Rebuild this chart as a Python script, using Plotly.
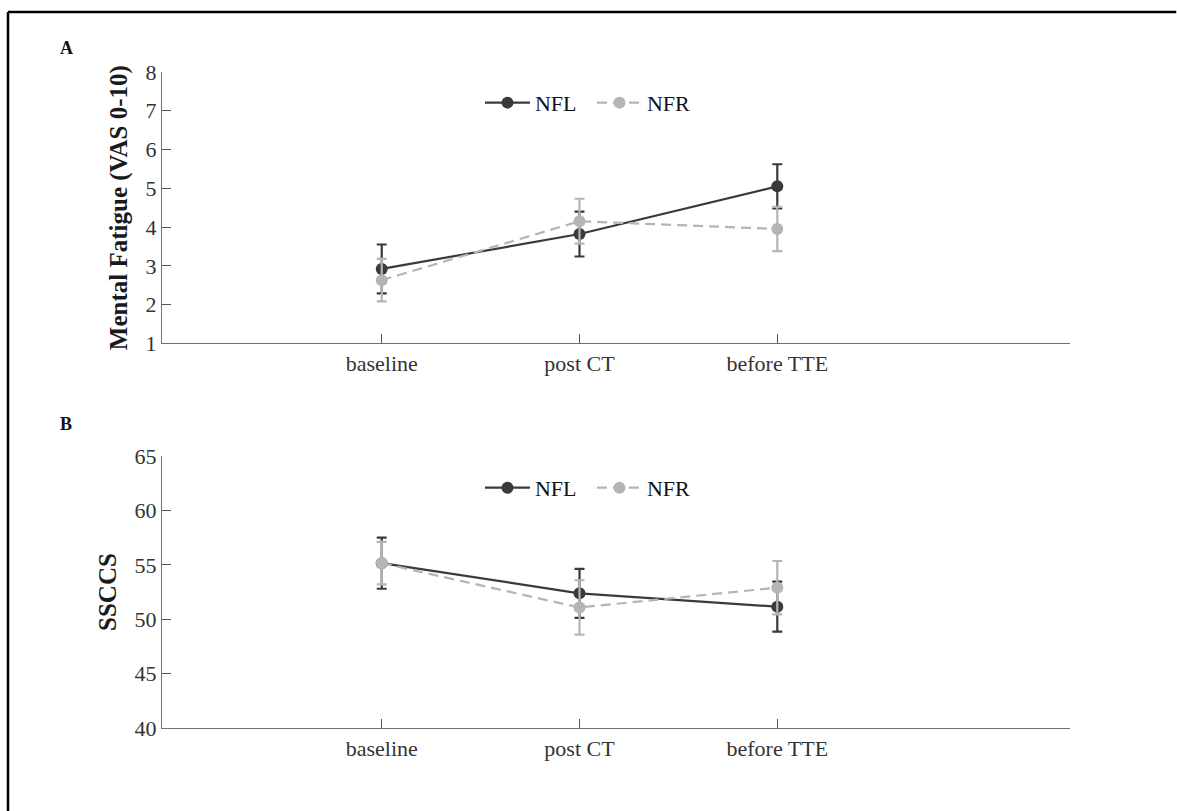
import plotly.graph_objects as go

categories = ["baseline", "post CT", "before TTE"]

# Panel A: Mental Fatigue (VAS 0-10)
nfl_fatigue = [2.92, 3.82, 5.05]
nfl_fatigue_err = [0.63, 0.58, 0.57]
nfr_fatigue = [2.63, 4.15, 3.95]
nfr_fatigue_err = [0.55, 0.58, 0.57]

# Panel B: SSCCS
nfl_ssccs = [55.15, 52.38, 51.15]
nfl_ssccs_err = [2.35, 2.25, 2.30]
nfr_ssccs = [55.15, 51.08, 52.90]
nfr_ssccs_err = [1.95, 2.50, 2.45]

fatigue_ticks = [1, 2, 3, 4, 5, 6, 7, 8]
ssccs_ticks = [40, 45, 50, 55, 60, 65]

DARK = "#3a3a3a"
LIGHT = "#b5b5b5"
FONT = "Liberation Serif, Times New Roman, serif"

fig = go.Figure()

def add_pair(x_ax, y_ax, legend, nfl, nfl_e, nfr, nfr_e):
    fig.add_trace(go.Scatter(
        x=categories, y=nfl, name="NFL", mode="lines+markers",
        line=dict(color=DARK, width=2.2),
        marker=dict(color=DARK, size=12, symbol="circle"),
        error_y=dict(type="data", array=nfl_e, color=DARK, thickness=2.2, width=5),
        xaxis=x_ax, yaxis=y_ax, legend=legend))
    fig.add_trace(go.Scatter(
        x=categories, y=nfr, name="NFR", mode="lines+markers",
        line=dict(color=LIGHT, width=2.2, dash="10px,6px"),
        marker=dict(color=LIGHT, size=12, symbol="circle"),
        error_y=dict(type="data", array=nfr_e, color=LIGHT, thickness=2.2, width=5),
        xaxis=x_ax, yaxis=y_ax, legend=legend))

add_pair("x", "y", "legend", nfl_fatigue, nfl_fatigue_err, nfr_fatigue, nfr_fatigue_err)
add_pair("x2", "y2", "legend2", nfl_ssccs, nfl_ssccs_err, nfr_ssccs, nfr_ssccs_err)

axis_common = dict(
    showline=True, linecolor="#707070", linewidth=1.2,
    ticks="inside", ticklen=9, tickcolor="#555555", tickwidth=1,
    showgrid=False, zeroline=False,
    tickfont=dict(family=FONT, size=22, color="#333333"),
)

legend_common = dict(
    orientation="h", x=0.3502, xanchor="left", yanchor="middle",
    bgcolor="rgba(0,0,0,0)", font=dict(family=FONT, size=22, color="#111111"),
    itemwidth=45, tracegroupgap=0, entrywidth=52, entrywidthmode="pixels",
)

xr = [-1.111, 3.48]
fig.update_layout(
    width=1177, height=811,
    margin=dict(l=162, r=107, t=72, b=83),
    paper_bgcolor="white", plot_bgcolor="white",
    font=dict(family=FONT, color="#222222"),
    xaxis=dict(domain=[0, 1], anchor="y", type="category", range=xr, **axis_common),
    yaxis=dict(domain=[0.5864, 1], anchor="x", range=[1, 8], tickvals=fatigue_ticks,
               title=dict(text="<b>Mental Fatigue (VAS 0-10)</b>", standoff=10,
                          font=dict(family=FONT, size=25, color="#1a1a1a")),
               **axis_common),
    xaxis2=dict(domain=[0, 1], anchor="y2", type="category", range=xr, **axis_common),
    yaxis2=dict(domain=[0, 0.4146], anchor="x2", range=[40, 65], tickvals=ssccs_ticks,
                title=dict(text="<b>SSCCS</b>", standoff=10,
                           font=dict(family=FONT, size=25, color="#1a1a1a")),
                **axis_common),
    legend=dict(y=0.953, **legend_common),
    legend2=dict(y=0.366, **legend_common),
    annotations=[
        dict(text="<b>A</b>", xref="paper", yref="paper", x=-0.1057, y=1.0366,
             xanchor="center", yanchor="middle",
             showarrow=False, font=dict(family=FONT, size=18, color="#111111")),
        dict(text="<b>B</b>", xref="paper", yref="paper", x=-0.1057, y=0.4634,
             xanchor="center", yanchor="middle",
             showarrow=False, font=dict(family=FONT, size=18, color="#111111")),
    ],
    shapes=[
        dict(type="line", xref="paper", yref="paper", x0=-0.1696, y0=1.0915, x1=1.117, y1=1.0915,
             line=dict(color="black", width=2.5), layer="above"),
        dict(type="line", xref="paper", yref="paper", x0=-0.1696, y0=-0.127, x1=-0.1696, y1=1.0915,
             line=dict(color="black", width=2.5), layer="above"),
    ],
)

fig.write_html("out.html")
